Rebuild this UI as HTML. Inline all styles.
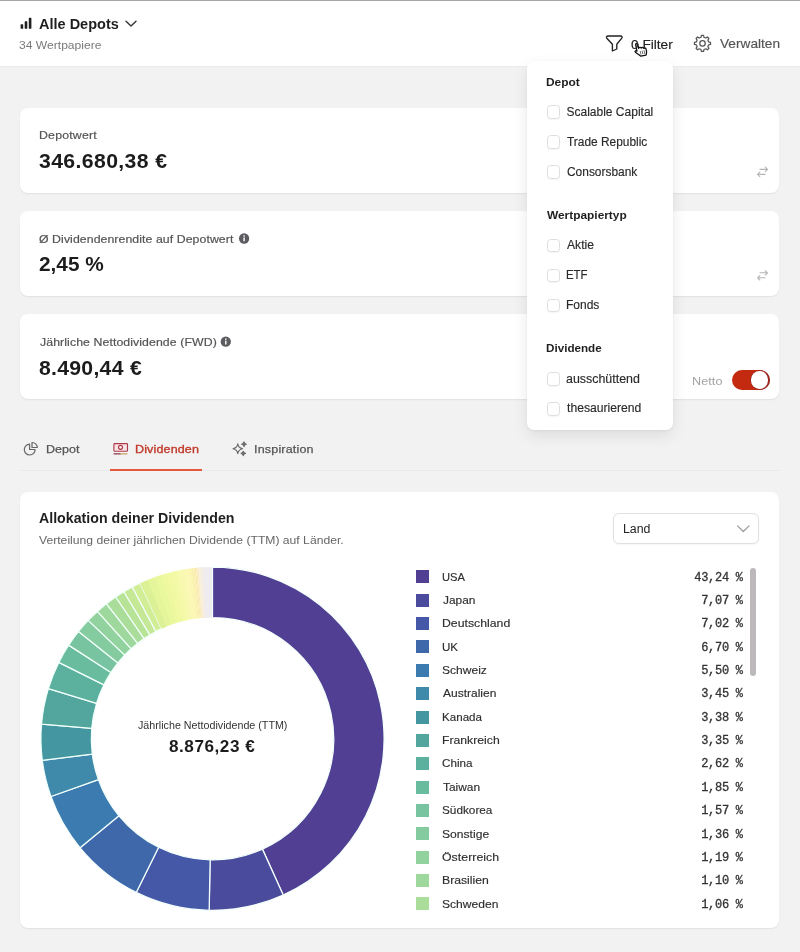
<!DOCTYPE html>
<html lang="de"><head><meta charset="utf-8"><title>Alle Depots</title>
<style>
html,body{margin:0;padding:0}
body{width:800px;height:952px;position:relative;overflow:hidden;background:#f2f2f2;font-family:"Liberation Sans",sans-serif;}
.abs{position:absolute}
.t{position:absolute;white-space:pre;line-height:20px;height:20px;transform-origin:0 50%}
.card{position:absolute;left:19.6px;width:759.6px;background:#fff;border-radius:8px;box-shadow:0 1px 1.5px rgba(0,0,0,.07)}
.cb{position:absolute;left:546.8px;width:11.4px;height:11.4px;border:1px solid #dedede;border-radius:3.5px;background:#fff;box-shadow:0 1px 1px rgba(0,0,0,.04)}
</style></head><body>
<!-- header -->
<div class="abs" style="left:0;top:0;width:800px;height:67.4px;background:#fff;border-bottom:1px solid #ebebeb;box-sizing:border-box"></div>
<div class="abs" style="left:0;top:0;width:800px;height:1px;background:#a6a6a6"></div>
<!-- cards -->
<div class="card" style="top:107.7px;height:85.4px"></div>
<div class="card" style="top:210.9px;height:85.5px"></div>
<div class="card" style="top:314.1px;height:85.1px"></div>
<div class="card" style="top:492px;height:436px"></div>
<!-- tabs line -->
<div class="abs" style="left:20px;top:470px;width:760px;height:1px;background:#e9e9e9"></div>
<div class="abs" style="left:109.5px;top:469.1px;width:92.3px;height:1.8px;background:#e6593d"></div>
<!-- toggle -->
<div class="abs" style="left:732.1px;top:369.8px;width:37.5px;height:20.3px;border-radius:11px;background:#c42a10;box-shadow:inset -1px 0 0 0 rgba(110,30,50,.55)"></div>
<div class="abs" style="left:751px;top:371.4px;width:17.3px;height:17.3px;border-radius:50%;background:#fff;box-shadow:0 0 0 .6px rgba(110,30,50,.6)"></div>
<!-- select -->
<div class="abs" style="left:613px;top:513px;width:145.5px;height:30.5px;box-sizing:border-box;border:1px solid #e0e0e0;border-radius:6px;background:#fff;box-shadow:0 1px 2px rgba(0,0,0,.04)"></div>
<!-- scrollbar -->
<div class="abs" style="left:749.6px;top:568px;width:6.8px;height:108px;border-radius:3.4px;background:#bcb8bc"></div>
<div class="abs" style="left:416px;top:570.40px;width:13px;height:13px;background:#503f93"></div><div class="abs" style="left:416px;top:593.75px;width:13px;height:13px;background:#4a4b9c"></div><div class="abs" style="left:416px;top:617.10px;width:13px;height:13px;background:#4557a7"></div><div class="abs" style="left:416px;top:640.45px;width:13px;height:13px;background:#3f68ab"></div><div class="abs" style="left:416px;top:663.80px;width:13px;height:13px;background:#3c7bb0"></div><div class="abs" style="left:416px;top:687.15px;width:13px;height:13px;background:#3f89ab"></div><div class="abs" style="left:416px;top:710.50px;width:13px;height:13px;background:#4496a0"></div><div class="abs" style="left:416px;top:733.85px;width:13px;height:13px;background:#52a69e"></div><div class="abs" style="left:416px;top:757.20px;width:13px;height:13px;background:#5cb19e"></div><div class="abs" style="left:416px;top:780.55px;width:13px;height:13px;background:#6abc9f"></div><div class="abs" style="left:416px;top:803.90px;width:13px;height:13px;background:#78c4a0"></div><div class="abs" style="left:416px;top:827.25px;width:13px;height:13px;background:#84cba0"></div><div class="abs" style="left:416px;top:850.60px;width:13px;height:13px;background:#92d29f"></div><div class="abs" style="left:416px;top:873.95px;width:13px;height:13px;background:#9ed89d"></div><div class="abs" style="left:416px;top:897.30px;width:13px;height:13px;background:#a9dd99"></div>
<svg class="abs" style="left:0;top:0" width="800" height="952" viewBox="0 0 800 952"><g stroke="#f2fffb" stroke-width="1.25" stroke-linejoin="round"><path d="M196.47 567.85A171.6 171.6 0 0 1 212.50 567.10L212.50 617.50A121.2 121.2 0 0 0 201.18 618.03Z" fill="#efecf0" stroke="none"/><path d="M197.37 567.77A171.6 171.6 0 0 1 200.65 567.51L204.13 617.79A121.2 121.2 0 0 0 201.81 617.97Z" fill="#f8f0da" stroke="none"/><path d="M200.65 567.51A171.6 171.6 0 0 1 203.34 567.34L206.03 617.67A121.2 121.2 0 0 0 204.13 617.79Z" fill="#f3ede6" stroke="none"/><path d="M212.50 567.10A171.6 171.6 0 0 1 283.21 895.05L262.44 849.13A121.2 121.2 0 0 0 212.50 617.50Z" fill="#503f93"/><path d="M283.21 895.05A171.6 171.6 0 0 1 209.16 910.27L210.14 859.88A121.2 121.2 0 0 0 262.44 849.13Z" fill="#4a4b9c"/><path d="M209.16 910.27A171.6 171.6 0 0 1 136.23 892.42L158.63 847.27A121.2 121.2 0 0 0 210.14 859.88Z" fill="#4557a7"/><path d="M136.23 892.42A171.6 171.6 0 0 1 80.07 847.83L118.97 815.78A121.2 121.2 0 0 0 158.63 847.27Z" fill="#3f68ab"/><path d="M80.07 847.83A171.6 171.6 0 0 1 50.94 796.52L98.39 779.54A121.2 121.2 0 0 0 118.97 815.78Z" fill="#3c7bb0"/><path d="M50.94 796.52A171.6 171.6 0 0 1 42.28 760.42L92.27 754.04A121.2 121.2 0 0 0 98.39 779.54Z" fill="#3f89ab"/><path d="M42.28 760.42A171.6 171.6 0 0 1 41.53 724.05L91.74 728.36A121.2 121.2 0 0 0 92.27 754.04Z" fill="#4496a0"/><path d="M41.53 724.05A171.6 171.6 0 0 1 48.36 688.66L96.57 703.35A121.2 121.2 0 0 0 91.74 728.36Z" fill="#52a69e"/><path d="M48.36 688.66A171.6 171.6 0 0 1 58.78 662.43L103.93 684.83A121.2 121.2 0 0 0 96.57 703.35Z" fill="#5cb19e"/><path d="M58.78 662.43A171.6 171.6 0 0 1 68.66 645.12L110.91 672.60A121.2 121.2 0 0 0 103.93 684.83Z" fill="#6abc9f"/><path d="M68.66 645.12A171.6 171.6 0 0 1 78.58 631.41L117.91 662.92A121.2 121.2 0 0 0 110.91 672.60Z" fill="#78c4a0"/><path d="M78.58 631.41A171.6 171.6 0 0 1 88.22 620.37L124.72 655.12A121.2 121.2 0 0 0 117.91 662.92Z" fill="#84cba0"/><path d="M88.22 620.37A171.6 171.6 0 0 1 97.41 611.42L131.21 648.80A121.2 121.2 0 0 0 124.72 655.12Z" fill="#92d29f"/><path d="M97.41 611.42A171.6 171.6 0 0 1 106.48 603.77L137.62 643.40A121.2 121.2 0 0 0 131.21 648.80Z" fill="#9ed89d"/><path d="M106.48 603.77A171.6 171.6 0 0 1 115.69 597.02L144.12 638.63A121.2 121.2 0 0 0 137.62 643.40Z" fill="#a9dd99"/><path d="M115.69 597.02A171.6 171.6 0 0 1 123.85 591.77L149.89 634.92A121.2 121.2 0 0 0 144.12 638.63Z" fill="#b7e397"/><path d="M123.85 591.77A171.6 171.6 0 0 1 132.30 587.00L155.85 631.55A121.2 121.2 0 0 0 149.89 634.92Z" fill="#c4e896"/><path d="M132.30 587.00A171.6 171.6 0 0 1 140.02 583.16L161.31 628.84A121.2 121.2 0 0 0 155.85 631.55Z" fill="#d1ed95"/><path d="M140.02 583.16A171.6 171.6 0 0 1 147.85 579.75L166.83 626.43A121.2 121.2 0 0 0 161.31 628.84Z" fill="#dcf196" stroke="none"/><path d="M147.43 579.92A171.6 171.6 0 0 1 154.90 577.06L171.82 624.53A121.2 121.2 0 0 0 166.54 626.55Z" fill="#e4f59a" stroke="none"/><path d="M154.47 577.21A171.6 171.6 0 0 1 161.24 574.94L176.29 623.03A121.2 121.2 0 0 0 171.52 624.64Z" fill="#e9f79d" stroke="none"/><path d="M160.81 575.07A171.6 171.6 0 0 1 166.92 573.26L180.31 621.85A121.2 121.2 0 0 0 175.99 623.13Z" fill="#eef89f" stroke="none"/><path d="M166.49 573.38A171.6 171.6 0 0 1 172.14 571.91L184.00 620.90A121.2 121.2 0 0 0 180.00 621.94Z" fill="#f1faa2" stroke="none"/><path d="M171.71 572.02A171.6 171.6 0 0 1 176.88 570.84L187.34 620.14A121.2 121.2 0 0 0 183.69 620.97Z" fill="#f4f9a7" stroke="none"/><path d="M176.44 570.93A171.6 171.6 0 0 1 181.10 570.00L190.33 619.55A121.2 121.2 0 0 0 187.03 620.21Z" fill="#f7f9ad" stroke="none"/><path d="M180.66 570.08A171.6 171.6 0 0 1 184.82 569.35L192.95 619.09A121.2 121.2 0 0 0 190.01 619.60Z" fill="#f9f8b2" stroke="none"/><path d="M184.38 569.42A171.6 171.6 0 0 1 188.02 568.86L195.21 618.74A121.2 121.2 0 0 0 192.64 619.14Z" fill="#fbf8b6" stroke="none"/><path d="M187.57 568.92A171.6 171.6 0 0 1 190.69 568.49L197.10 618.48A121.2 121.2 0 0 0 194.90 618.79Z" fill="#fcf6b5" stroke="none"/><path d="M190.24 568.55A171.6 171.6 0 0 1 192.25 568.30L198.20 618.35A121.2 121.2 0 0 0 196.78 618.52Z" fill="#fbf5b4" stroke="none"/><path d="M191.80 568.35A171.6 171.6 0 0 1 192.79 568.24L198.58 618.30A121.2 121.2 0 0 0 197.88 618.38Z" fill="#f6e79c" stroke="none"/><path d="M192.34 568.29A171.6 171.6 0 0 1 194.06 568.09L199.47 618.20A121.2 121.2 0 0 0 198.26 618.34Z" fill="#fcf6bd" stroke="none"/><path d="M193.61 568.14A171.6 171.6 0 0 1 194.55 568.04L199.82 618.17A121.2 121.2 0 0 0 199.16 618.24Z" fill="#f5e094" stroke="none"/><path d="M194.10 568.09A171.6 171.6 0 0 1 195.52 567.94L200.51 618.09A121.2 121.2 0 0 0 199.50 618.20Z" fill="#fdf6c4" stroke="none"/><path d="M195.08 567.99A171.6 171.6 0 0 1 195.96 567.90L200.82 618.06A121.2 121.2 0 0 0 200.19 618.13Z" fill="#f6dd98" stroke="none"/><path d="M195.52 567.94A171.6 171.6 0 0 1 196.84 567.82L201.44 618.01A121.2 121.2 0 0 0 200.50 618.10Z" fill="#fdf3c6" stroke="none"/><path d="M196.40 567.86A171.6 171.6 0 0 1 197.23 567.78L201.72 617.98A121.2 121.2 0 0 0 201.13 618.03Z" fill="#f7e0a4" stroke="none"/><path d="M196.79 567.82A171.6 171.6 0 0 1 198.41 567.68L202.55 617.91A121.2 121.2 0 0 0 201.40 618.01Z" fill="#fbf0cc" stroke="none"/></g></svg>
<!-- dropdown -->
<div class="abs" style="left:526.8px;top:61px;width:146px;height:369px;background:#fff;border-radius:7px;box-shadow:0 6px 16px rgba(0,0,0,.085),0 1px 3px rgba(0,0,0,.05)"></div>
<div class="cb" style="top:105.4px"></div><div class="cb" style="top:135.4px"></div><div class="cb" style="top:165.4px"></div><div class="cb" style="top:239px"></div><div class="cb" style="top:269px"></div><div class="cb" style="top:299px"></div><div class="cb" style="top:372.3px"></div><div class="cb" style="top:402.3px"></div>
<!-- icons -->
<svg class="abs" style="left:0;top:0" width="800" height="952" viewBox="0 0 800 952" fill="none" stroke-linecap="round" stroke-linejoin="round">
 <!-- bars -->
 <g fill="#1f1f1f" stroke="none">
  <rect x="20.6" y="24.2" width="2.6" height="4.6" rx=".6"/>
  <rect x="24.7" y="21.2" width="2.6" height="7.6" rx=".6"/>
  <rect x="28.8" y="17.8" width="2.6" height="11" rx=".6"/>
 </g>
 <!-- chevron header -->
 <path d="M126 21.2L131 26L136 21.2" stroke="#333" stroke-width="1.4"/>
 <!-- funnel -->
 <path d="M608 36H620.6C622 36 622.6 37.2 621.8 38.2L616.8 44.3V49L612.4 51V44.3L606.8 38.2C606 37.2 606.6 36 608 36Z" stroke="#222" stroke-width="1.35"/>
 <!-- gear -->
 <path d="M701.03 37.27L701.42 35.37L703.58 35.37L703.97 37.27L705.79 38.03L707.41 36.96L708.94 38.49L707.87 40.11L708.63 41.93L710.53 42.32L710.53 44.48L708.63 44.87L707.87 46.69L708.94 48.31L707.41 49.84L705.79 48.77L703.97 49.53L703.58 51.43L701.42 51.43L701.03 49.53L699.21 48.77L697.59 49.84L696.06 48.31L697.13 46.69L696.37 44.87L694.47 44.48L694.47 42.32L696.37 41.93L697.13 40.11L696.06 38.49L697.59 36.96L699.21 38.03Z" stroke="#555" stroke-width="1.25"/>
 <circle cx="702.5" cy="43.4" r="2.7" stroke="#555" stroke-width="1.25"/>
 <!-- swap icons -->
 <g stroke="#b5b5b5" stroke-width="1.1">
  <path d="M760 169.4H767.4M765.3 167.2L767.5 169.4L765.3 171.6M765 174.4H757.6M759.8 172.2L757.6 174.4L759.8 176.6"/>
  <path d="M760 272.8H767.4M765.3 270.6L767.5 272.8L765.3 275M765 277.8H757.6M759.8 275.6L757.6 277.8L759.8 280"/>
 </g>
 <!-- info icons -->
 <g>
  <circle cx="244.1" cy="238.5" r="5.15" fill="#5b5b60"/>
  <rect x="243.40" y="237.50" width="1.4" height="3.8" fill="#fff"/><rect x="243.40" y="235.30" width="1.4" height="1.4" fill="#fff"/>
  <circle cx="225.8" cy="341.7" r="5.15" fill="#5b5b60"/>
  <rect x="225.10" y="340.70" width="1.4" height="3.8" fill="#fff"/><rect x="225.10" y="338.50" width="1.4" height="1.4" fill="#fff"/>
 </g>
 <!-- pie icon -->
 <g stroke="#666" stroke-width="1.2">
  <path d="M29.6 444.2A5.4 5.4 0 1 0 35.1 449.5H29.6Z"/>
  <path d="M32 442.5A5.1 5.1 0 0 1 37.3 447.5H32Z"/>
 </g>
 <!-- banknote icon -->
 <g stroke="#ad3a48" stroke-width="1.15">
  <rect x="113.9" y="443.6" width="13.6" height="7.6" rx=".8" fill="#fae3e7"/>
  <circle cx="120.5" cy="447.3" r="2" fill="#fdf0f2"/>
  <path d="M114 453.8H120.5" stroke="#8a3a48"/><path d="M120.5 453.9H127" stroke="#c9a46a"/>
 </g>
 <!-- sparkles -->
 <g stroke="#666" stroke-width="1.1">
  <path d="M237.8 443.9C238.3 447 239.5 448.2 242.6 448.75C239.5 449.3 238.3 450.5 237.8 453.6C237.3 450.5 236.1 449.3 233 448.75C236.1 448.2 237.3 447 237.8 443.9Z"/>
  <path d="M244 441.9C244.3 443.5 244.8 444 246.4 444.25C244.8 444.5 244.3 445 244 446.6C243.7 445 243.2 444.5 241.6 444.25C243.2 444 243.7 443.5 244 441.9Z" fill="#777"/>
  <path d="M243.3 451.2C243.6 452.7 244 453.1 245.5 453.4C244 453.7 243.6 454.1 243.3 455.6C243 454.1 242.6 453.7 241.1 453.4C242.6 453.1 243 452.7 243.3 451.2Z" fill="#777"/>
 </g>
 <!-- select chevron -->
 <path d="M737.5 525.9L743.3 531.5L749.1 525.9" stroke="#999" stroke-width="1.2"/>
 <!-- cursor hand -->
 <g transform="translate(633.7,42.5) rotate(-12 6 6) scale(1.07)">
  <path d="M2.6 1.3C2.6 .2 4.7 .2 4.7 1.3V5.2C5.3 4.4 6.8 4.6 7 5.5C7.7 4.9 9 5.1 9.2 6.1C9.9 5.6 11.3 6 11.3 7.2V9.4C11.3 10.8 10.6 11.6 10.2 12.8H5C4.2 11.3 2.2 9.8 1 8.2C.3 7.2 1.5 6.3 2.6 7.5Z" fill="#fff" stroke="#111" stroke-width="1.2"/>
  <path d="M5.6 8.4V11M7.4 8.4V11M9.2 8.4V11" stroke="#333" stroke-width=".6"/>
 </g>
</svg>
<span class="t" style="top:12px;line-height:23px;height:23px;font-size:15px;font-weight:700;color:#1f1f1f;left:39.12px;transform:scaleX(0.9669);">Alle Depots</span>
<span class="t" style="top:36px;line-height:18px;height:18px;font-size:11.3px;font-weight:400;color:#7a7a7a;left:19.46px;transform:scaleX(1.0711);">34 Wertpapiere</span>
<span class="t" style="top:34px;line-height:21px;height:21px;font-size:13.3px;font-weight:400;color:#222;-webkit-text-stroke:0.15px currentColor;left:631.09px;transform:scaleX(1.0275);">0 Filter</span>
<span class="t" style="top:33px;line-height:21px;height:21px;font-size:13px;font-weight:400;color:#555;-webkit-text-stroke:0.15px currentColor;left:719.64px;transform:scaleX(1.0518);">Verwalten</span>
<span class="t" style="top:126px;line-height:18px;height:18px;font-size:11.2px;font-weight:400;color:#555;letter-spacing:0.182px;-webkit-text-stroke:0.2px currentColor;left:38.70px;transform:scaleX(1.1000);">Depotwert</span>
<span class="t" style="top:148px;line-height:27px;height:27px;font-size:19.3px;font-weight:700;color:#1c1c1c;letter-spacing:0.345px;left:39.35px;transform:scaleX(1.1000);">346.680,38 €</span>
<span class="t" style="top:230px;line-height:18px;height:18px;font-size:11.2px;font-weight:400;color:#555;letter-spacing:0.060px;-webkit-text-stroke:0.2px currentColor;left:39.25px;transform:scaleX(1.1000);">Ø Dividendenrendite auf Depotwert</span>
<span class="t" style="top:251px;line-height:27px;height:27px;font-size:19.3px;font-weight:700;color:#1c1c1c;left:39.09px;transform:scaleX(1.0791);">2,45 %</span>
<span class="t" style="top:333px;line-height:18px;height:18px;font-size:11.2px;font-weight:400;color:#555;letter-spacing:0.074px;-webkit-text-stroke:0.2px currentColor;left:39.52px;transform:scaleX(1.1000);">Jährliche Nettodividende (FWD)</span>
<span class="t" style="top:355px;line-height:27px;height:27px;font-size:19.3px;font-weight:700;color:#1c1c1c;letter-spacing:0.245px;left:39.35px;transform:scaleX(1.1000);">8.490,44 €</span>
<span class="t" style="top:372px;line-height:18px;height:18px;font-size:11.5px;font-weight:400;color:#a3a3a3;letter-spacing:0.057px;left:691.65px;transform:scaleX(1.1000);">Netto</span>
<span class="t" style="top:72px;line-height:20px;height:20px;font-size:11.8px;font-weight:700;color:#1f1f1f;left:546.04px;transform:scaleX(1.0123);">Depot</span>
<span class="t" style="top:102px;line-height:20px;height:20px;font-size:12px;font-weight:400;color:#2a2a2a;-webkit-text-stroke:0.15px currentColor;left:566.50px;">Scalable Capital</span>
<span class="t" style="top:132px;line-height:20px;height:20px;font-size:12px;font-weight:400;color:#2a2a2a;-webkit-text-stroke:0.15px currentColor;left:566.75px;transform:scaleX(0.9919);">Trade Republic</span>
<span class="t" style="top:162px;line-height:20px;height:20px;font-size:12px;font-weight:400;color:#2a2a2a;-webkit-text-stroke:0.15px currentColor;left:566.50px;transform:scaleX(0.9943);">Consorsbank</span>
<span class="t" style="top:205px;line-height:20px;height:20px;font-size:11.8px;font-weight:700;color:#1f1f1f;left:546.80px;transform:scaleX(1.0076);">Wertpapiertyp</span>
<span class="t" style="top:235px;line-height:20px;height:20px;font-size:12px;font-weight:400;color:#2a2a2a;-webkit-text-stroke:0.15px currentColor;left:567.00px;transform:scaleX(1.0133);">Aktie</span>
<span class="t" style="top:265px;line-height:20px;height:20px;font-size:12px;font-weight:400;color:#2a2a2a;-webkit-text-stroke:0.15px currentColor;left:566.05px;transform:scaleX(0.9506);">ETF</span>
<span class="t" style="top:295px;line-height:20px;height:20px;font-size:12px;font-weight:400;color:#2a2a2a;-webkit-text-stroke:0.15px currentColor;left:566.00px;">Fonds</span>
<span class="t" style="top:338px;line-height:20px;height:20px;font-size:11.8px;font-weight:700;color:#1f1f1f;left:546.06px;transform:scaleX(0.9882);">Dividende</span>
<span class="t" style="top:369px;line-height:20px;height:20px;font-size:12px;font-weight:400;color:#2a2a2a;-webkit-text-stroke:0.15px currentColor;left:566.48px;transform:scaleX(1.0343);">ausschüttend</span>
<span class="t" style="top:398px;line-height:20px;height:20px;font-size:12px;font-weight:400;color:#2a2a2a;-webkit-text-stroke:0.15px currentColor;left:566.75px;transform:scaleX(1.0131);">thesaurierend</span>
<span class="t" style="top:440px;line-height:18px;height:18px;font-size:11.4px;font-weight:400;color:#555;-webkit-text-stroke:0.25px currentColor;left:45.65px;transform:scaleX(1.0991);">Depot</span>
<span class="t" style="top:440px;line-height:18px;height:18px;font-size:11.4px;font-weight:400;color:#c03a2b;letter-spacing:0.124px;-webkit-text-stroke:0.35px currentColor;left:134.90px;transform:scaleX(1.1000);">Dividenden</span>
<span class="t" style="top:440px;line-height:18px;height:18px;font-size:11.4px;font-weight:400;color:#555;letter-spacing:0.161px;-webkit-text-stroke:0.25px currentColor;left:254.10px;transform:scaleX(1.1000);">Inspiration</span>
<span class="t" style="top:507px;line-height:22px;height:22px;font-size:14px;font-weight:700;color:#1f1f1f;left:39.19px;transform:scaleX(1.0131);">Allokation deiner Dividenden</span>
<span class="t" style="top:531px;line-height:18px;height:18px;font-size:11.5px;font-weight:400;color:#666;left:39.44px;transform:scaleX(1.0568);">Verteilung deiner jährlichen Dividende (TTM) auf Länder.</span>
<span class="t" style="top:519px;line-height:20px;height:20px;font-size:12px;font-weight:400;color:#222;left:622.72px;transform:scaleX(1.0300);">Land</span>
<span class="t" style="top:717px;line-height:17px;height:17px;font-size:10.3px;font-weight:400;color:#333;left:137.74px;transform:scaleX(1.0403);">Jährliche Nettodividende (TTM)</span>
<span class="t" style="top:735px;line-height:23px;height:23px;font-size:15.6px;font-weight:700;color:#1c1c1c;letter-spacing:0.475px;left:169.45px;transform:scaleX(1.1000);">8.876,23 €</span>
<span class="t" style="top:568px;line-height:18px;height:18px;font-size:11.2px;font-weight:400;color:#2e2e2e;-webkit-text-stroke:0.15px currentColor;left:442.25px;transform:scaleX(0.9978);">USA</span>
<span class="t" style="top:568px;line-height:20px;height:20px;font-size:12px;font-weight:400;color:#333;letter-spacing:-0.286px;font-family:'Liberation Mono', monospace;-webkit-text-stroke:0.3px currentColor;left:694.22px;">43,24 %</span>
<span class="t" style="top:591px;line-height:18px;height:18px;font-size:11.2px;font-weight:400;color:#2e2e2e;-webkit-text-stroke:0.15px currentColor;left:442.73px;transform:scaleX(1.0644);">Japan</span>
<span class="t" style="top:591px;line-height:20px;height:20px;font-size:12px;font-weight:400;color:#333;letter-spacing:-0.286px;font-family:'Liberation Mono', monospace;-webkit-text-stroke:0.3px currentColor;left:701.18px;">7,07 %</span>
<span class="t" style="top:614px;line-height:18px;height:18px;font-size:11.2px;font-weight:400;color:#2e2e2e;-webkit-text-stroke:0.15px currentColor;left:441.90px;transform:scaleX(1.0975);">Deutschland</span>
<span class="t" style="top:614px;line-height:20px;height:20px;font-size:12px;font-weight:400;color:#333;letter-spacing:-0.286px;font-family:'Liberation Mono', monospace;-webkit-text-stroke:0.3px currentColor;left:701.18px;">7,02 %</span>
<span class="t" style="top:638px;line-height:18px;height:18px;font-size:11.2px;font-weight:400;color:#2e2e2e;-webkit-text-stroke:0.15px currentColor;left:442.22px;transform:scaleX(1.0345);">UK</span>
<span class="t" style="top:638px;line-height:20px;height:20px;font-size:12px;font-weight:400;color:#333;letter-spacing:-0.286px;font-family:'Liberation Mono', monospace;-webkit-text-stroke:0.3px currentColor;left:701.18px;">6,70 %</span>
<span class="t" style="top:661px;line-height:18px;height:18px;font-size:11.2px;font-weight:400;color:#2e2e2e;-webkit-text-stroke:0.15px currentColor;left:442.46px;transform:scaleX(1.0765);">Schweiz</span>
<span class="t" style="top:661px;line-height:20px;height:20px;font-size:12px;font-weight:400;color:#333;letter-spacing:-0.286px;font-family:'Liberation Mono', monospace;-webkit-text-stroke:0.3px currentColor;left:701.18px;">5,50 %</span>
<span class="t" style="top:684px;line-height:18px;height:18px;font-size:11.2px;font-weight:400;color:#2e2e2e;-webkit-text-stroke:0.15px currentColor;left:443.00px;transform:scaleX(1.0714);">Australien</span>
<span class="t" style="top:684px;line-height:20px;height:20px;font-size:12px;font-weight:400;color:#333;letter-spacing:-0.286px;font-family:'Liberation Mono', monospace;-webkit-text-stroke:0.3px currentColor;left:701.18px;">3,45 %</span>
<span class="t" style="top:708px;line-height:18px;height:18px;font-size:11.2px;font-weight:400;color:#2e2e2e;-webkit-text-stroke:0.15px currentColor;left:441.96px;transform:scaleX(1.0373);">Kanada</span>
<span class="t" style="top:708px;line-height:20px;height:20px;font-size:12px;font-weight:400;color:#333;letter-spacing:-0.286px;font-family:'Liberation Mono', monospace;-webkit-text-stroke:0.3px currentColor;left:701.18px;">3,38 %</span>
<span class="t" style="top:731px;line-height:18px;height:18px;font-size:11.2px;font-weight:400;color:#2e2e2e;-webkit-text-stroke:0.15px currentColor;left:441.91px;transform:scaleX(1.0922);">Frankreich</span>
<span class="t" style="top:731px;line-height:20px;height:20px;font-size:12px;font-weight:400;color:#333;letter-spacing:-0.286px;font-family:'Liberation Mono', monospace;-webkit-text-stroke:0.3px currentColor;left:701.18px;">3,35 %</span>
<span class="t" style="top:754px;line-height:18px;height:18px;font-size:11.2px;font-weight:400;color:#2e2e2e;-webkit-text-stroke:0.15px currentColor;left:442.48px;transform:scaleX(1.0435);">China</span>
<span class="t" style="top:754px;line-height:20px;height:20px;font-size:12px;font-weight:400;color:#333;letter-spacing:-0.286px;font-family:'Liberation Mono', monospace;-webkit-text-stroke:0.3px currentColor;left:701.18px;">2,62 %</span>
<span class="t" style="top:778px;line-height:18px;height:18px;font-size:11.2px;font-weight:400;color:#2e2e2e;-webkit-text-stroke:0.15px currentColor;left:442.73px;transform:scaleX(1.0667);">Taiwan</span>
<span class="t" style="top:778px;line-height:20px;height:20px;font-size:12px;font-weight:400;color:#333;letter-spacing:-0.286px;font-family:'Liberation Mono', monospace;-webkit-text-stroke:0.3px currentColor;left:701.18px;">1,85 %</span>
<span class="t" style="top:801px;line-height:18px;height:18px;font-size:11.2px;font-weight:400;color:#2e2e2e;-webkit-text-stroke:0.15px currentColor;left:442.47px;transform:scaleX(1.0526);">Südkorea</span>
<span class="t" style="top:801px;line-height:20px;height:20px;font-size:12px;font-weight:400;color:#333;letter-spacing:-0.286px;font-family:'Liberation Mono', monospace;-webkit-text-stroke:0.3px currentColor;left:701.18px;">1,57 %</span>
<span class="t" style="top:825px;line-height:18px;height:18px;font-size:11.2px;font-weight:400;color:#2e2e2e;-webkit-text-stroke:0.15px currentColor;left:442.46px;transform:scaleX(1.0824);">Sonstige</span>
<span class="t" style="top:825px;line-height:20px;height:20px;font-size:12px;font-weight:400;color:#333;letter-spacing:-0.286px;font-family:'Liberation Mono', monospace;-webkit-text-stroke:0.3px currentColor;left:701.18px;">1,36 %</span>
<span class="t" style="top:848px;line-height:18px;height:18px;font-size:11.2px;font-weight:400;color:#2e2e2e;letter-spacing:0.033px;-webkit-text-stroke:0.15px currentColor;left:442.45px;transform:scaleX(1.1000);">Österreich</span>
<span class="t" style="top:848px;line-height:20px;height:20px;font-size:12px;font-weight:400;color:#333;letter-spacing:-0.286px;font-family:'Liberation Mono', monospace;-webkit-text-stroke:0.3px currentColor;left:701.18px;">1,19 %</span>
<span class="t" style="top:871px;line-height:18px;height:18px;font-size:11.2px;font-weight:400;color:#2e2e2e;-webkit-text-stroke:0.15px currentColor;left:441.91px;transform:scaleX(1.0909);">Brasilien</span>
<span class="t" style="top:871px;line-height:20px;height:20px;font-size:12px;font-weight:400;color:#333;letter-spacing:-0.286px;font-family:'Liberation Mono', monospace;-webkit-text-stroke:0.3px currentColor;left:701.18px;">1,10 %</span>
<span class="t" style="top:895px;line-height:18px;height:18px;font-size:11.2px;font-weight:400;color:#2e2e2e;-webkit-text-stroke:0.15px currentColor;left:442.46px;transform:scaleX(1.0784);">Schweden</span>
<span class="t" style="top:895px;line-height:20px;height:20px;font-size:12px;font-weight:400;color:#333;letter-spacing:-0.286px;font-family:'Liberation Mono', monospace;-webkit-text-stroke:0.3px currentColor;left:701.18px;">1,06 %</span>
</body></html>
